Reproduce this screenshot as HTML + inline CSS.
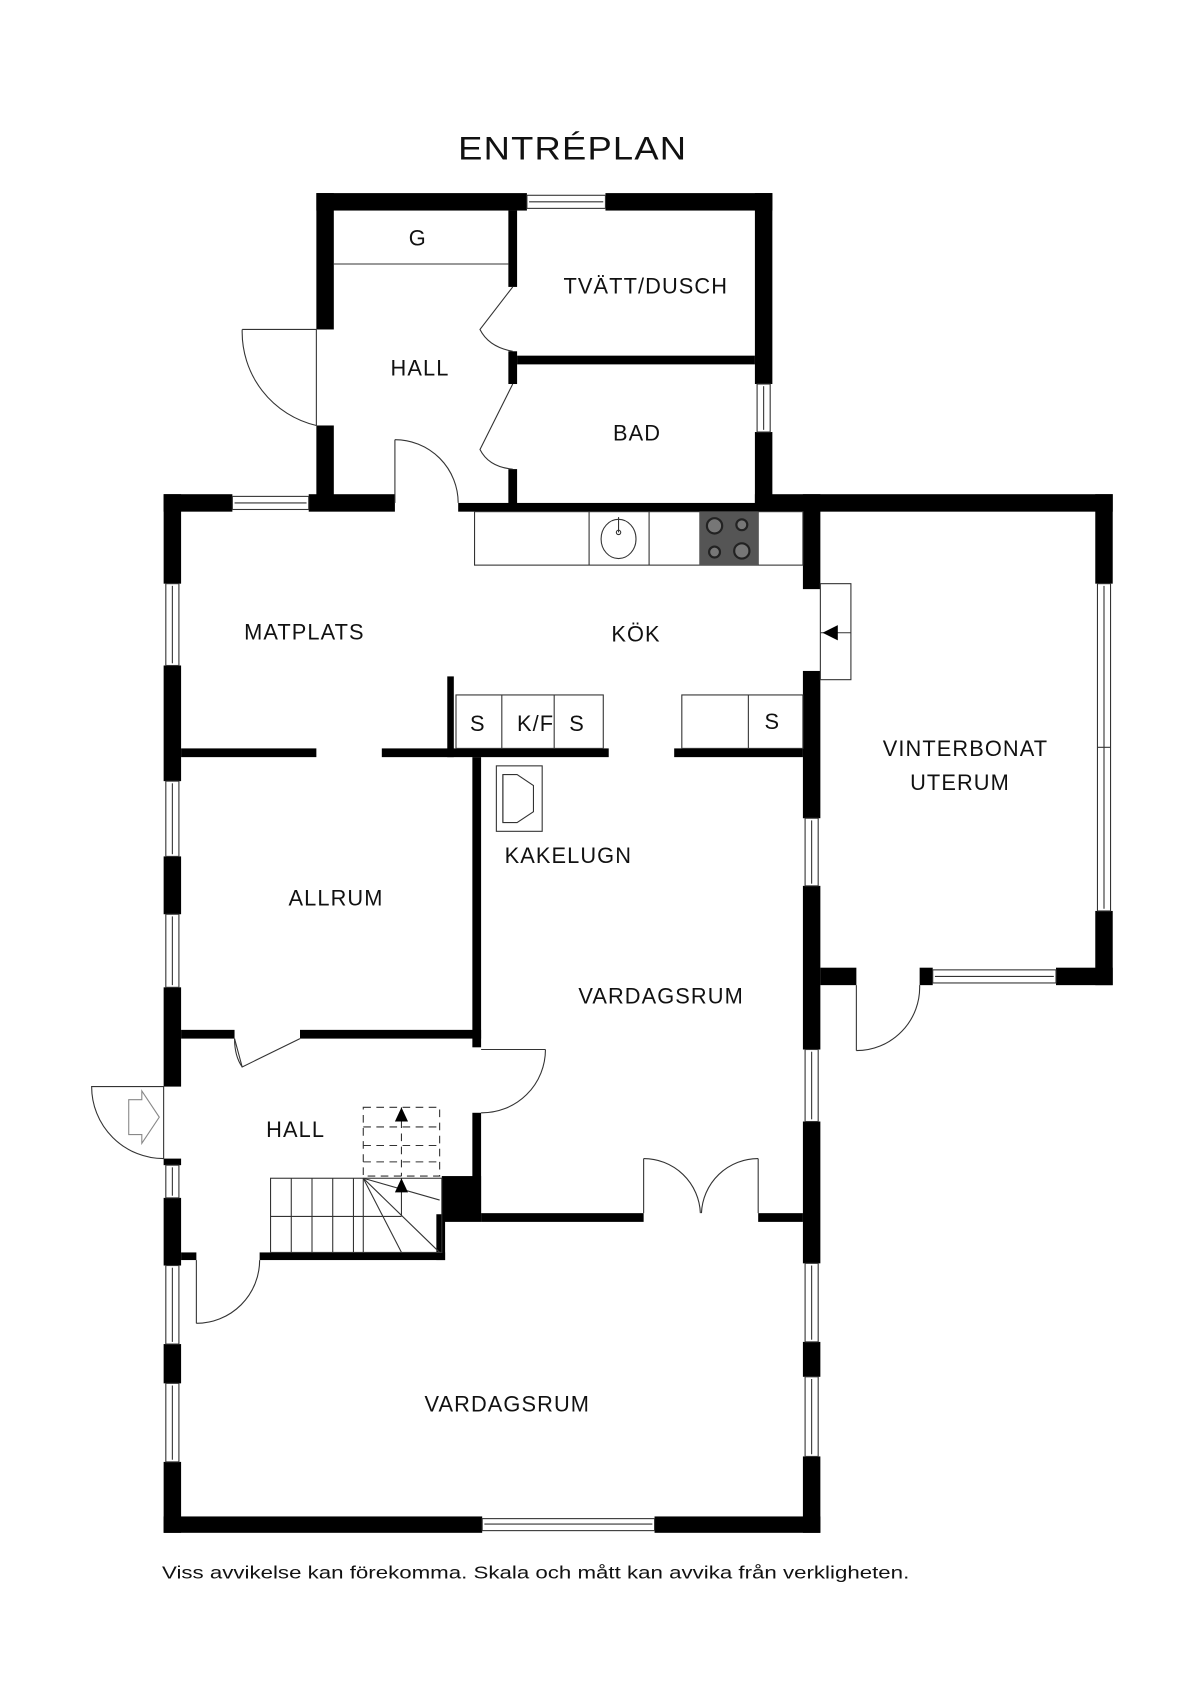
<!DOCTYPE html>
<html><head><meta charset="utf-8"><style>
html,body{margin:0;padding:0;background:#fff}
svg{display:block}
text{font-family:"Liberation Sans",sans-serif;fill:#111}
</style></head><body>
<svg width="1200" height="1703" viewBox="0 0 1100 1561" preserveAspectRatio="none" xmlns="http://www.w3.org/2000/svg">
<rect width="1100" height="1561" fill="#fff"/>
<g fill="#000">
<rect x="290" y="177" width="193" height="16"/>
<rect x="555" y="177" width="153" height="16"/>
<rect x="290" y="177" width="16" height="125"/>
<rect x="290" y="390" width="16" height="78"/>
<rect x="692" y="177" width="16" height="175"/>
<rect x="692" y="396" width="16" height="72"/>
<rect x="466" y="193" width="8" height="70"/>
<rect x="466" y="322" width="8" height="30"/>
<rect x="466" y="430" width="8" height="38"/>
<rect x="474" y="326" width="218" height="8"/>
<rect x="150" y="453" width="63" height="16"/>
<rect x="283" y="453" width="79" height="16"/>
<rect x="420" y="461" width="320" height="8"/>
<rect x="692" y="453" width="328" height="16"/>
<rect x="150" y="453" width="16" height="82"/>
<rect x="150" y="610" width="16" height="106"/>
<rect x="150" y="785" width="16" height="53"/>
<rect x="150" y="905" width="16" height="91"/>
<rect x="150" y="1062" width="16" height="6"/>
<rect x="150" y="1098" width="16" height="62"/>
<rect x="150" y="1232" width="16" height="36"/>
<rect x="150" y="1340" width="16" height="65"/>
<rect x="150" y="1390" width="292" height="15"/>
<rect x="600" y="1390" width="152" height="15"/>
<rect x="736" y="453" width="16" height="87"/>
<rect x="736" y="615" width="16" height="135"/>
<rect x="736" y="812" width="16" height="150"/>
<rect x="736" y="1028" width="16" height="130"/>
<rect x="736" y="1230" width="16" height="32"/>
<rect x="736" y="1335" width="16" height="70"/>
<rect x="1004" y="453" width="16" height="82"/>
<rect x="1004" y="835" width="16" height="68"/>
<rect x="752" y="887" width="33" height="16"/>
<rect x="843" y="887" width="12" height="16"/>
<rect x="968" y="887" width="52" height="16"/>
<rect x="166" y="686" width="124" height="8"/>
<rect x="350" y="686" width="208" height="8"/>
<rect x="618" y="686" width="118" height="8"/>
<rect x="410" y="620" width="6" height="74"/>
<rect x="433" y="694" width="8" height="266"/>
<rect x="433" y="1020" width="8" height="93"/>
<rect x="166" y="944" width="49" height="8"/>
<rect x="275" y="944" width="166" height="8"/>
<rect x="405" y="1078" width="36" height="42"/>
<rect x="441" y="1112" width="149" height="8"/>
<rect x="695" y="1112" width="41" height="8"/>
<rect x="400" y="1113" width="8" height="42"/>
<rect x="238" y="1148" width="170" height="7"/>
<rect x="166" y="1148" width="14" height="7"/>
</g>
<g fill="none" stroke="#333" stroke-width="1">
<rect x="483" y="179" width="72" height="12"/><line x1="485" y1="185" x2="553" y2="185"/>
<rect x="694" y="352" width="12" height="44"/><line x1="700" y1="354" x2="700" y2="394"/>
<rect x="213" y="455" width="70" height="12"/><line x1="215" y1="461" x2="281" y2="461"/>
<rect x="152" y="535" width="12" height="75"/><line x1="158" y1="537" x2="158" y2="608"/>
<rect x="152" y="716" width="12" height="69"/><line x1="158" y1="718" x2="158" y2="783"/>
<rect x="152" y="838" width="12" height="67"/><line x1="158" y1="840" x2="158" y2="903"/>
<rect x="152" y="1068" width="12" height="30"/><line x1="158" y1="1070" x2="158" y2="1096"/>
<rect x="152" y="1160" width="12" height="72"/><line x1="158" y1="1162" x2="158" y2="1230"/>
<rect x="152" y="1268" width="12" height="72"/><line x1="158" y1="1270" x2="158" y2="1338"/>
<rect x="442" y="1392" width="158" height="11"/><line x1="444" y1="1397" x2="598" y2="1397"/>
<rect x="738" y="750" width="12" height="62"/><line x1="744" y1="752" x2="744" y2="810"/>
<rect x="738" y="962" width="12" height="66"/><line x1="744" y1="964" x2="744" y2="1026"/>
<rect x="738" y="1158" width="12" height="72"/><line x1="744" y1="1160" x2="744" y2="1228"/>
<rect x="738" y="1262" width="12" height="73"/><line x1="744" y1="1264" x2="744" y2="1333"/>
<rect x="1006" y="535" width="12" height="300"/><line x1="1012" y1="537" x2="1012" y2="833"/><line x1="1006" y1="685" x2="1018" y2="685"/>
<rect x="855" y="889" width="113" height="12"/><line x1="857" y1="895" x2="966" y2="895"/>
<line x1="306" y1="242" x2="466" y2="242"/>
<line x1="290" y1="302" x2="222" y2="302"/><path d="M222 302 A88 88 0 0 0 290 390"/><line x1="290" y1="302" x2="290" y2="390"/>
<path d="M470 263 L440 302 Q448 318 470 322"/>
<path d="M470 352 L440 412 Q448 428 470 430"/>
<line x1="362" y1="461" x2="362" y2="403"/><path d="M362 403 A58 58 0 0 1 420 461"/>
<line x1="785" y1="903" x2="785" y2="963"/><path d="M785 963 A58 58 0 0 0 843 903"/>
<path d="M215 952 L222 978 L275 952"/><path d="M215 952 Q215 968 222 978"/>
<line x1="441" y1="962" x2="500" y2="962"/><path d="M500 962 A58 58 0 0 1 441 1020"/>
<path d="M150 996 L84 996 A66 66 0 0 0 150 1062 Z" />
<path d="M118 1008 L130 1008 L130 1000 L146 1024 L130 1048 L130 1040 L118 1040 Z" stroke="#888"/>
<line x1="180" y1="1155" x2="180" y2="1213"/><path d="M180 1213 A58 58 0 0 0 238 1155"/>
<line x1="590" y1="1112" x2="590" y2="1062"/><path d="M590 1062 A52 52 0 0 1 642 1112"/>
<line x1="695" y1="1112" x2="695" y2="1062"/><path d="M695 1062 A52 52 0 0 0 643 1112"/>
<rect x="752" y="535" width="28" height="88"/>
<line x1="752" y1="580" x2="780" y2="580"/>
<rect x="435" y="469" width="301" height="49"/>
<line x1="540" y1="469" x2="540" y2="518"/><line x1="595" y1="469" x2="595" y2="518"/><line x1="695" y1="469" x2="695" y2="518"/>
<ellipse cx="567" cy="494" rx="16" ry="18"/><line x1="567" y1="474" x2="567" y2="488"/><circle cx="567" cy="488" r="2"/>
<rect x="418" y="637" width="135" height="49"/>
<line x1="460" y1="637" x2="460" y2="686"/><line x1="508" y1="637" x2="508" y2="686"/>
<rect x="625" y="637" width="111" height="49"/>
<line x1="686" y1="637" x2="686" y2="686"/>
<rect x="455" y="702" width="42" height="60"/>
<path d="M461 710 L474 710 L489 720 L489 744 L474 754 L461 754 Z"/>
<line x1="461" y1="710" x2="461" y2="754"/>
<rect x="248" y="1080" width="157" height="68"/>
<line x1="248" y1="1115" x2="368" y2="1115"/>
<line x1="267" y1="1080" x2="267" y2="1148"/><line x1="286" y1="1080" x2="286" y2="1148"/><line x1="305" y1="1080" x2="305" y2="1148"/><line x1="324" y1="1080" x2="324" y2="1148"/>
<line x1="333" y1="1080" x2="333" y2="1148"/>
<line x1="333" y1="1080" x2="368" y2="1148"/><line x1="333" y1="1080" x2="403" y2="1148"/><line x1="333" y1="1080" x2="403" y2="1100"/>
<line x1="368" y1="1080" x2="368" y2="1115"/>
<g stroke-dasharray="7,5">
<rect x="333" y="1015" width="70" height="63"/>
<line x1="333" y1="1033" x2="403" y2="1033"/><line x1="333" y1="1050" x2="403" y2="1050"/><line x1="333" y1="1065" x2="403" y2="1065"/>
<line x1="368" y1="1015" x2="368" y2="1078"/>
</g>
</g>
<rect x="641" y="469" width="54" height="49" fill="#555"/>
<g fill="#777" stroke="#222" stroke-width="2">
<circle cx="655" cy="482" r="7"/><circle cx="680" cy="481" r="5"/><circle cx="655" cy="506" r="5"/><circle cx="680" cy="505" r="7"/>
</g>
<g fill="#000">
<path d="M768 573 L754 580 L768 587 Z"/>
<path d="M362 1028 L368 1015 L374 1028 Z"/>
<path d="M362 1093 L368 1080 L374 1093 Z"/>
</g>
<g font-size="20" text-anchor="middle" letter-spacing="1">
<text x="525" y="146" font-size="30" textLength="210" lengthAdjust="spacingAndGlyphs">ENTRÉPLAN</text>
<text x="383" y="225">G</text>
<text x="592" y="269">TVÄTT/DUSCH</text>
<text x="385" y="344">HALL</text>
<text x="584" y="404">BAD</text>
<text x="279" y="586">MATPLATS</text>
<text x="583" y="588">KÖK</text>
<text x="438" y="670">S</text>
<text x="491" y="670">K/F</text>
<text x="529" y="670">S</text>
<text x="708" y="668">S</text>
<text x="885" y="693">VINTERBONAT</text>
<text x="880" y="724">UTERUM</text>
<text x="521" y="791">KAKELUGN</text>
<text x="308" y="830">ALLRUM</text>
<text x="606" y="920">VARDAGSRUM</text>
<text x="271" y="1042">HALL</text>
<text x="465" y="1294">VARDAGSRUM</text>
<text x="491" y="1447" font-size="16" letter-spacing="0" textLength="685" lengthAdjust="spacingAndGlyphs">Viss avvikelse kan förekomma. Skala och mått kan avvika från verkligheten.</text>
</g>
</svg>
</body></html>
